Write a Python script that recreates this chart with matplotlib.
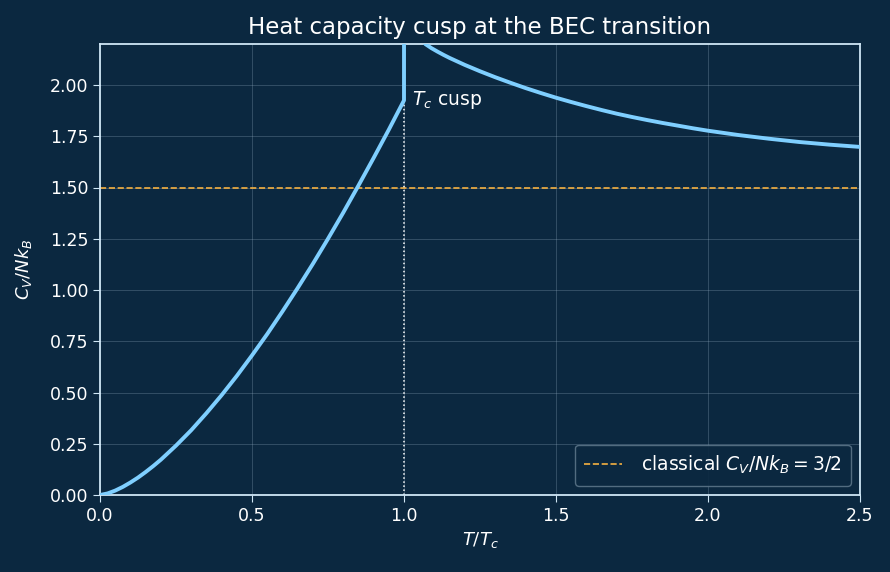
import matplotlib
matplotlib.use('Agg')
import matplotlib.pyplot as plt

BG = '#0b2840'
LINE = '#7fcfff'
ORANGE = '#f5b041'
FG = '#ffffff'

# below T_c
t_below = [0.0, 0.025, 0.05, 0.075, 0.1, 0.125, 0.15, 0.175, 0.2, 0.25,
           0.3, 0.35, 0.4, 0.45, 0.5, 0.55, 0.6, 0.65, 0.7, 0.75, 0.8,
           0.85, 0.9, 0.95, 1.0]
c_below = [0.0, 0.0076, 0.0215, 0.0395, 0.061, 0.085, 0.112, 0.141, 0.172,
           0.241, 0.316, 0.399, 0.487, 0.581, 0.681, 0.785, 0.895, 1.009,
           1.127, 1.250, 1.377, 1.509, 1.644, 1.782, 1.925]

# above T_c
t_above = [1.0, 1.001, 1.01, 1.03, 1.05, 1.07, 1.09, 1.11, 1.13, 1.15, 1.2,
           1.25, 1.3, 1.35, 1.4, 1.45, 1.5, 1.55, 1.6, 1.65, 1.7, 1.75,
           1.8, 1.85, 1.9, 1.95, 2.0, 2.1, 2.2, 2.3, 2.4, 2.5]
c_above = [1.925, 6.0, 3.2, 2.5, 2.28, 2.200, 2.180, 2.163, 2.147, 2.132,
           2.098, 2.067, 2.038, 2.011, 1.985, 1.961, 1.938, 1.917, 1.897,
           1.878, 1.860, 1.844, 1.829, 1.815, 1.802, 1.789, 1.777, 1.756,
           1.738, 1.722, 1.709, 1.698]

classical = 1.5
t_c = 1.0

fig = plt.figure(figsize=(8.9, 5.72), dpi=100, facecolor=BG)
ax = fig.add_axes([100 / 890, 77 / 572, 760 / 890, 451 / 572])
ax.set_facecolor(BG)

ax.plot(t_below + t_above, c_below + c_above, color=LINE, linewidth=2.8,
        zorder=3, solid_joinstyle='round')
ax.axhline(classical, color=ORANGE, linestyle='--', linewidth=1.2,
           label=r'classical $C_V/Nk_B = 3/2$', zorder=2)
ax.axvline(t_c, color=FG, linestyle=':', linewidth=1.1, zorder=2)
ax.text(1.025, 1.925, r'$T_c$ cusp', color=FG, fontsize=13.5, ha='left',
        va='center')

ax.set_xlim(0, 2.5)
ax.set_ylim(0, 2.2)
ax.set_xticks([0.0, 0.5, 1.0, 1.5, 2.0, 2.5])
ax.set_yticks([0.0, 0.25, 0.5, 0.75, 1.0, 1.25, 1.5, 1.75, 2.0])
ax.yaxis.set_major_formatter(matplotlib.ticker.FormatStrFormatter('%.2f'))
ax.grid(True, color='#8fa8bd', alpha=0.3, linewidth=0.7)

for s in ax.spines.values():
    s.set_color('#cfe6f5')
    s.set_linewidth(1.3)
ax.tick_params(colors='#cfe6f5', labelcolor=FG, labelsize=12.5, length=5)

ax.set_xlabel(r'$T/T_c$', color=FG, fontsize=13)
ax.set_ylabel(r'$C_V/Nk_B$', color=FG, fontsize=13, labelpad=11)
ax.set_title('Heat capacity cusp at the BEC transition', color=FG,
             fontsize=16.5, pad=7)

leg = ax.legend(loc='lower right', fontsize=13.5, facecolor=BG,
                edgecolor='#5a7488', framealpha=0.9, borderpad=0.5,
                handletextpad=1.0)
for txt in leg.get_texts():
    txt.set_color(FG)

fig.savefig('out.png', dpi=100, facecolor=BG)
